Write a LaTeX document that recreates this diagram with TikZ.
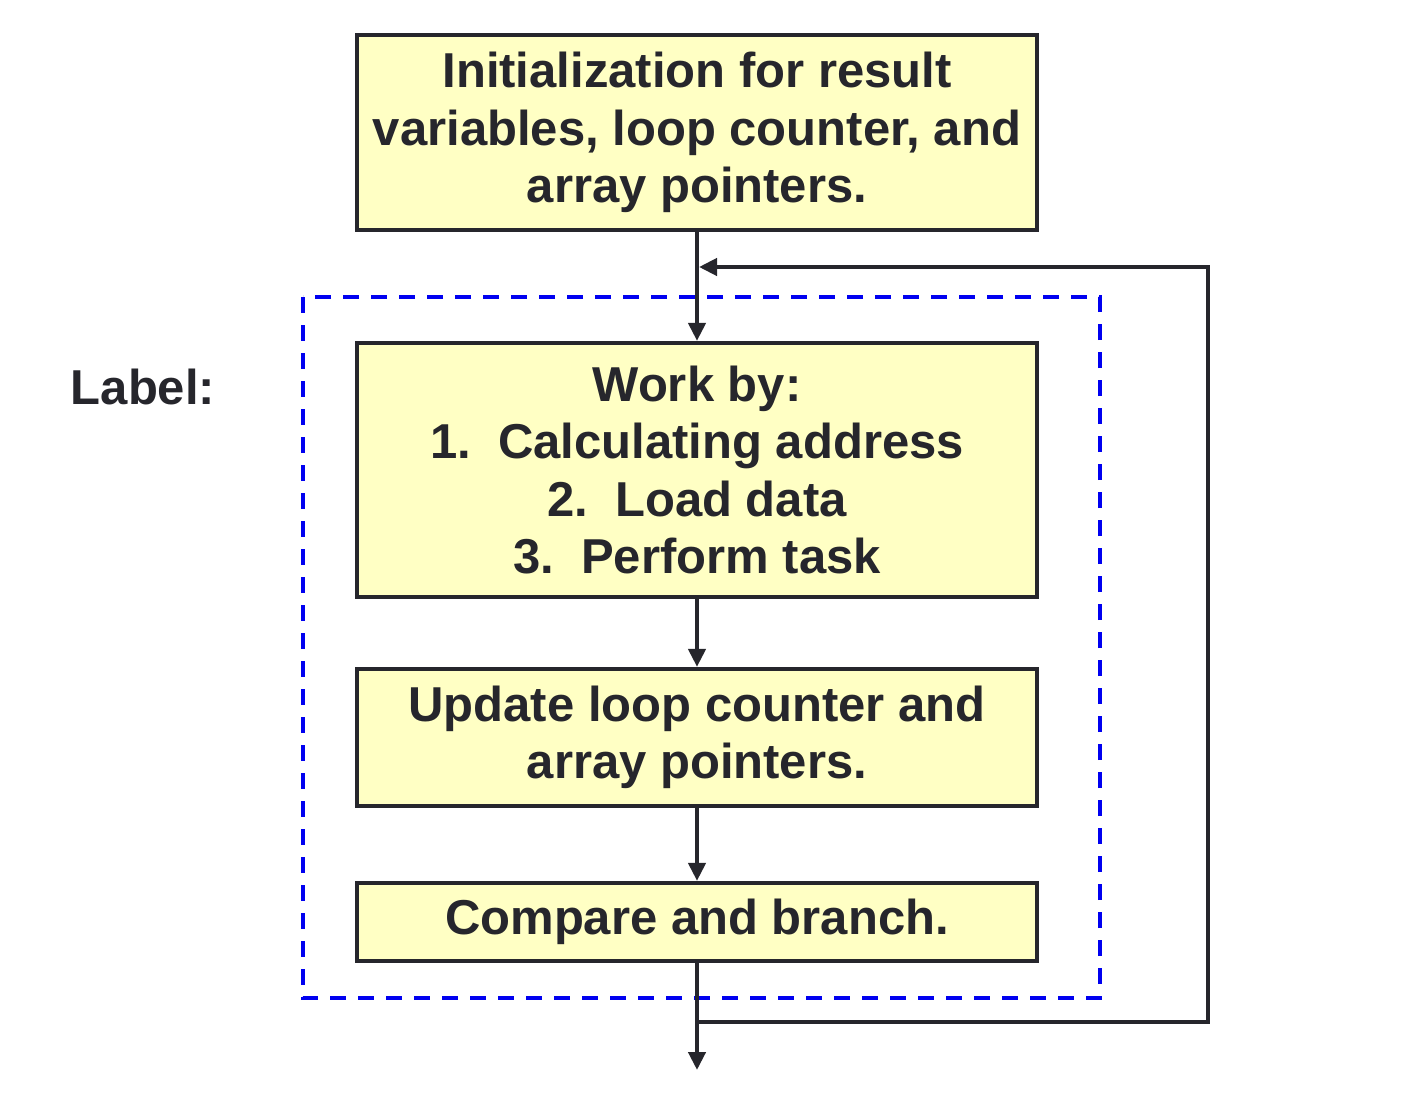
\documentclass[tikz,border=0pt]{standalone}
\usepackage{fontspec}
\setmainfont{Liberation Sans}
\usetikzlibrary{arrows.meta}
\definecolor{ink}{HTML}{26262C}
\definecolor{boxfill}{HTML}{FFFFC4}
\definecolor{dashblue}{HTML}{0000F0}
\tikzset{
  flowbox/.style={draw=ink, line width=4.2pt, fill=boxfill, text=ink, align=center,
    minimum width=680pt, inner sep=0pt,
    font=\fontsize{49}{57.5}\selectfont\bfseries},
  conn/.style={draw=ink, line width=4.2pt},
  arr/.style={conn, -{Triangle[length=18pt,width=17pt]}},
}
\begin{document}
\begin{tikzpicture}[x=1pt,y=-1pt]
\useasboundingbox (0,0) rectangle (1422,1098);
% dashed loop region
\draw[dashblue, line width=4pt, dash pattern=on 16pt off 12pt] (303,297) rectangle (1100,998);
\node[flowbox, minimum height=195pt] (b1) at (697,132.5) {Initialization for result\\variables, loop counter, and\\array pointers.};
\node[flowbox, minimum height=254pt] (b2) at (697,470) {Work by:\\1.\ \ Calculating address\\2.\ \ Load data\\3.\ \ Perform task};
\node[flowbox, minimum height=137pt] (b3) at (697,737.5) {Update loop counter and\\array pointers.};
\node[flowbox, minimum height=78pt] (b4) at (697,922) {Compare and branch.};
\node[text=ink, font=\fontsize{49}{57.5}\selectfont\bfseries] (lbl) at (143,387) {Label:};
\coordinate (j1) at (697,1022);
\coordinate (c1) at (1208,1022);
\coordinate (c2) at (1208,267);
\coordinate (j2) at (699,267);
\coordinate (out) at (697,1070);
\draw[arr] (b1.south) -- (b2.north);
\draw[arr] (b2.south) -- (b3.north);
\draw[arr] (b3.south) -- (b4.north);
\draw[arr] (b4.south) -- (out);
\draw[arr] (j1) -- (c1) -- (c2) -- (j2);
\end{tikzpicture}
\end{document}
